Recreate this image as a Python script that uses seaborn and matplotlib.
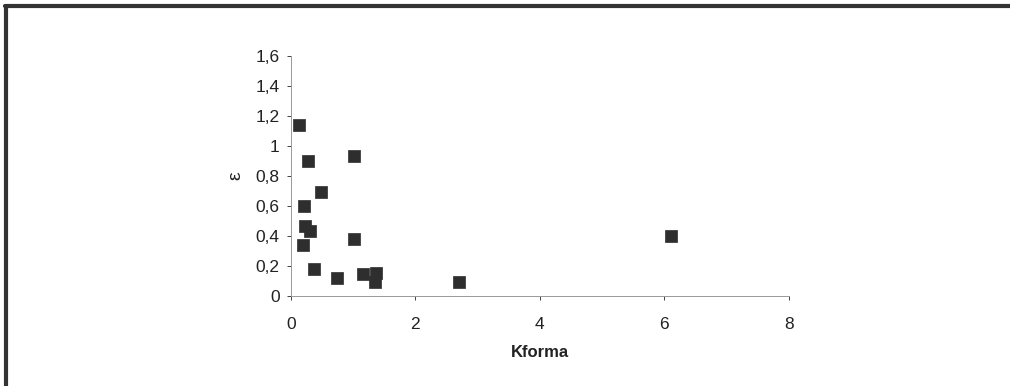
import matplotlib
matplotlib.use('Agg')
import matplotlib.pyplot as plt
from matplotlib.lines import Line2D
import numpy as np
import pandas as pd
import seaborn as sns

# values
kforma = [0.13, 0.28, 1.02, 0.48, 0.21, 0.22, 0.305, 0.20, 1.01, 0.37,
          0.74, 1.16, 1.37, 1.35, 2.70, 6.10]
epsilon = [1.14, 0.90, 0.93, 0.69, 0.60, 0.465, 0.43, 0.34, 0.376, 0.178,
           0.116, 0.147, 0.149, 0.093, 0.089, 0.40]

x_ticks = [0, 2, 4, 6, 8]
y_ticks = [0, 0.2, 0.4, 0.6, 0.8, 1.0, 1.2, 1.4, 1.6]
y_labels = ['0', '0,2', '0,4', '0,6', '0,8', '1', '1,2', '1,4', '1,6']

sns.set_style('white')
plt.rcParams['font.family'] = ['Liberation Sans', 'DejaVu Sans']

df = pd.DataFrame({'Kforma': kforma, 'eps': epsilon})

fig = plt.figure(figsize=(10.1, 3.86), dpi=100)
ax = fig.add_axes([0.288, 0.234, 0.493, 0.622])

sns.scatterplot(data=df, x='Kforma', y='eps', marker='s', s=70,
                color='#2e2e2e', edgecolor='#2e2e2e', linewidth=0.5, ax=ax)

ax.set_xlim(0, 8)
ax.set_ylim(0, 1.6)
ax.set_xticks(x_ticks)
ax.set_xticklabels([str(t) for t in x_ticks])
ax.set_yticks(y_ticks)
ax.set_yticklabels(y_labels)
ax.tick_params(axis='both', labelsize=12.5, colors='#222222', length=3,
               width=0.6, direction='out', left=True, bottom=True)
ax.tick_params(axis='x', pad=12)
ax.tick_params(axis='y', pad=5)

for side in ['top', 'right']:
    ax.spines[side].set_visible(False)
for side in ['left', 'bottom']:
    ax.spines[side].set_color('#999999')
    ax.spines[side].set_linewidth(0.7)

ax.set_xlabel('Kforma', fontsize=12, fontweight='bold', color='#222222', labelpad=10)
ax.set_ylabel('\u03b5', fontsize=14, color='#222222', labelpad=8)

# scanned frame: dark top and left edges
fig.add_artist(Line2D([0.005, 1.0], [0.985, 0.985], transform=fig.transFigure,
                      color='#333333', linewidth=3))
fig.add_artist(Line2D([0.006, 0.006], [0.0, 0.985], transform=fig.transFigure,
                      color='#333333', linewidth=3))

fig.savefig('out.png', dpi=100, facecolor='white')
